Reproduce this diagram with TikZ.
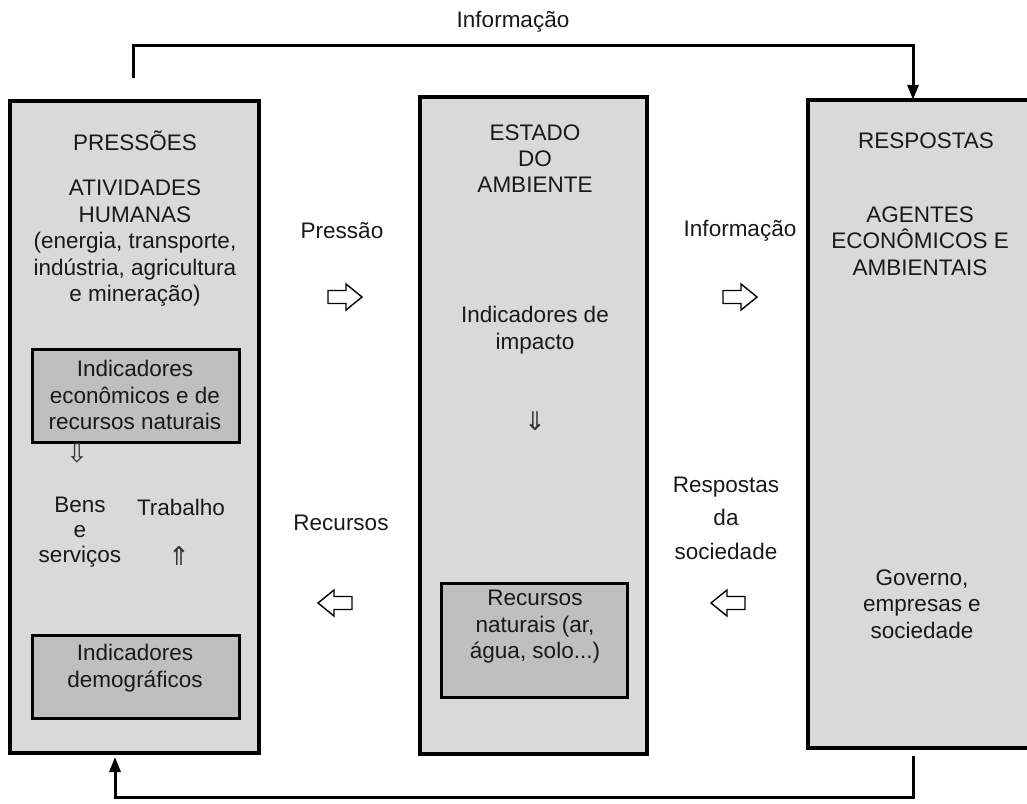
\documentclass[tikz,border=0pt]{standalone}
\usepackage{fontspec}
\setmainfont{Liberation Sans}
\newfontfamily\symfont{DejaVu Sans}
\usetikzlibrary{arrows.meta}
\definecolor{boxgray}{gray}{0.85}
\definecolor{innergray}{gray}{0.75}
\begin{document}
\begin{tikzpicture}[x=1pt,y=-1pt,
  txt/.style={inner sep=0pt,align=center,font=\fontsize{22.5}{26.5}\selectfont,text=black!90},
  outerbox/.style={draw=black,line width=3.5pt,fill=boxgray},
  innerbox/.style={draw=black,line width=3pt,fill=innergray},
  hollow/.style={draw=black,fill=white,line width=1.4pt,line join=miter},
  flow/.style={line width=3pt,-{Triangle[length=15pt,width=11pt]}},
  smallarr/.style={inner sep=0pt,font=\symfont\fontsize{26}{26}\selectfont,text=black!80}
]
\useasboundingbox (0,0) rectangle (1027,803);
\fill[white] (0,0) rectangle (1027,803);

% outer boxes
\path[outerbox] (10,101) rectangle (259,753);
\path[outerbox] (420,97) rectangle (647,754);
\path[outerbox] (808,100) rectangle (1040,748);
\node (lbox) at (134.5,427) [minimum width=249pt,minimum height=652pt,inner sep=0pt] {};
\node (mbox) at (533.5,425.5) [minimum width=227pt,minimum height=657pt,inner sep=0pt] {};
\node (rbox) at (924,424) [minimum width=232pt,minimum height=648pt,inner sep=0pt] {};

% inner boxes
\path[innerbox] (32,349) rectangle (239,442);
\path[innerbox] (32,635) rectangle (239,718);
\path[innerbox] (441,583) rectangle (627,697);

% left box texts
\node[txt] (press) at (135,141) {PRESSÕES};
\node[txt] (ativ) at (135,243.5) {ATIVIDADES\\HUMANAS\\(energia, transporte,\\indústria, agricultura\\e mineração)};
\node[txt] (indeco) at (135,395) {Indicadores\\econômicos e de\\recursos naturais};
\node[smallarr] (darr1) at (77,453) {⇩};
\node[txt,font=\fontsize{22.5}{25}\selectfont] (bens) at (80,532) {Bens\\e\\serviços};
\node[txt] (trab) at (181,507) {Trabalho};
\node[smallarr] (uarr) at (179,556) {⇑};
\node[txt] (inddem) at (135,668) {Indicadores\\demográficos};

% middle box texts
\node[txt,font=\fontsize{22.5}{26}\selectfont] (estado) at (535,159) {ESTADO\\DO\\AMBIENTE};
\node[txt] (indimp) at (535,330) {Indicadores de\\impacto};
\node[smallarr] (darr2) at (535,421) {⇓};
\node[txt] (recnat) at (535,627) {Recursos\\naturais (ar,\\água, solo...)};

% right box texts
\node[txt] (resp) at (926,141) {RESPOSTAS};
\node[txt] (agentes) at (920,241) {AGENTES\\ECONÔMICOS E\\AMBIENTAIS};
\node[txt] (gov) at (922,604) {Governo,\\empresas e\\sociedade};

% between-box labels and hollow arrows
\node[txt] (lpress) at (342,231) {Pressão};
\coordinate (a1) at (345,297);
\draw[hollow,shift={(a1)}] (-17,-6.5) -- (1,-6.5) -- (1,-13) -- (17,0) -- (1,13) -- (1,6.5) -- (-17,6.5) -- cycle;
\node[txt] (linfo) at (740,231) {Informação};
\coordinate (a2) at (740,297);
\draw[hollow,shift={(a2)}] (-17,-6.5) -- (1,-6.5) -- (1,-13) -- (17,0) -- (1,13) -- (1,6.5) -- (-17,6.5) -- cycle;
\node[txt] (lrec) at (341,523) {Recursos};
\coordinate (a3) at (335,603);
\draw[hollow,shift={(a3)}] (17,-6.5) -- (-1,-6.5) -- (-1,-13) -- (-17,0) -- (-1,13) -- (-1,6.5) -- (17,6.5) -- cycle;
\node[txt,font=\fontsize{22.5}{33.5}\selectfont] (lresp) at (726,518) {Respostas\\da\\sociedade};
\coordinate (a4) at (728,603);
\draw[hollow,shift={(a4)}] (17,-6.5) -- (-1,-6.5) -- (-1,-13) -- (-17,0) -- (-1,13) -- (-1,6.5) -- (17,6.5) -- cycle;

% top feedback connector
\node[txt] (topinfo) at (513,22) {Informação};
\coordinate (ts) at (133,78);
\draw[flow] (ts) |- (513,45) -| (rbox.north -| 913,0);
% bottom feedback connector
\coordinate (bs) at (913,756);
\draw[flow] (bs) |- (513,797) -| (115,757);
\end{tikzpicture}
\end{document}
